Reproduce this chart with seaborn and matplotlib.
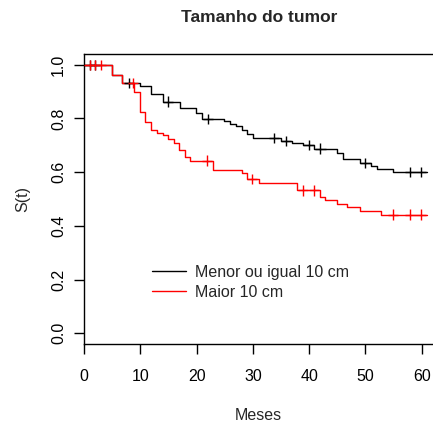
import matplotlib
matplotlib.use("Agg")
import matplotlib.pyplot as plt
import seaborn as sns
import pandas as pd

# ---- data ----
groups = ["Menor ou igual 10 cm", "Maior 10 cm"]

small_times = [0, 4.9, 6.8, 9.9, 11.9, 14.0, 17.0, 19.9, 21.0, 24.9, 26.0, 27.0,
               28.0, 29.0, 30.1, 35.0, 36.9, 38.9, 40.9, 45.0, 46.0, 49.0, 50.9,
               52.0, 54.9, 61.0]
small_surv = [1.0, 0.963, 0.933, 0.922, 0.890, 0.863, 0.838, 0.822, 0.799, 0.789,
              0.781, 0.772, 0.757, 0.741, 0.727, 0.717, 0.708, 0.701, 0.688, 0.673,
              0.650, 0.635, 0.622, 0.612, 0.600, 0.600]
small_cens_t = [1.0, 2.0, 8.0, 14.9, 22.0, 33.8, 35.9, 39.9, 42.0, 50.0, 58.0, 59.9]

large_times = [0, 4.9, 6.8, 8.9, 9.9, 10.9, 11.9, 13.0, 14.0, 15.0, 16.0, 16.9,
               17.9, 18.9, 22.9, 28.0, 29.0, 31.0, 37.9, 41.9, 42.9, 45.0, 46.8,
               49.0, 52.8, 61.0]
large_surv = [1.0, 0.962, 0.931, 0.898, 0.824, 0.788, 0.757, 0.747, 0.739, 0.724,
              0.710, 0.681, 0.658, 0.643, 0.609, 0.597, 0.574, 0.559, 0.532, 0.508,
              0.495, 0.483, 0.469, 0.457, 0.442, 0.442]
large_cens_t = [1.0, 2.0, 3.0, 8.7, 21.9, 29.9, 38.9, 40.9, 54.9, 58.0, 59.9]

title = "Tamanho do tumor"
xlabel = "Meses"
ylabel = "S(t)"
xticks = [0, 10, 20, 30, 40, 50, 60]
yticks = [0.0, 0.2, 0.4, 0.6, 0.8, 1.0]


def surv_at(times, surv, t):
    val = surv[0]
    for ti, si in zip(times, surv):
        if ti <= t:
            val = si
    return val


curves = pd.concat([
    pd.DataFrame({"t": small_times, "S": small_surv, "grupo": groups[0]}),
    pd.DataFrame({"t": large_times, "S": large_surv, "grupo": groups[1]}),
], ignore_index=True)

cens = pd.concat([
    pd.DataFrame({"t": small_cens_t,
                  "S": [surv_at(small_times, small_surv, c) for c in small_cens_t],
                  "grupo": groups[0]}),
    pd.DataFrame({"t": large_cens_t,
                  "S": [surv_at(large_times, large_surv, c) for c in large_cens_t],
                  "grupo": groups[1]}),
], ignore_index=True)

# ---- style ----
sns.set_theme(style="white")
plt.rcParams["font.family"] = ["Liberation Sans", "DejaVu Sans"]
plt.rcParams["font.size"] = 11.5

palette = {groups[0]: "black", groups[1]: "red"}

fig = plt.figure(figsize=(4.33, 4.26), dpi=100)
ax = fig.add_axes([84 / 433, (426 - 344) / 426, (433 - 84) / 433, (344 - 54) / 426])

sns.lineplot(data=curves, x="t", y="S", hue="grupo", palette=palette,
             drawstyle="steps-post", estimator=None, sort=False,
             linewidth=1.0, ax=ax, legend=True)
sns.scatterplot(data=cens, x="t", y="S", hue="grupo", palette=palette,
                marker="+", s=55, linewidth=1.0, ax=ax, legend=False, zorder=3)

ax.set_xlim(0, 62)
ax.set_ylim(-0.04, 1.04)
ax.set_xticks(xticks)
ax.set_xticklabels([str(v) for v in xticks])
ax.set_yticks(yticks)
ax.set_yticklabels([f"{v:.1f}" for v in yticks], rotation=90, va="center")

for side in ["left", "top", "bottom"]:
    ax.spines[side].set_visible(True)
    ax.spines[side].set_color("black")
    ax.spines[side].set_linewidth(1.0)
ax.spines["right"].set_visible(False)

ax.tick_params(axis="both", which="major", direction="out", length=7, width=1.0,
               color="black", labelsize=11.5, labelcolor="black")
ax.tick_params(axis="x", pad=11, bottom=True)
ax.tick_params(axis="y", pad=6, left=True)

ax.set_xlabel(xlabel, fontsize=11.5, labelpad=17)
ax.set_ylabel(ylabel, fontsize=11.5, labelpad=15)
fig.text(259 / 433, 1 - 18 / 426, title, ha="center", va="center",
         fontsize=12.5, fontweight="bold")

handles, labels = ax.get_legend_handles_labels()
ax.legend(handles=handles, labels=labels, loc="upper left",
          bbox_to_anchor=(144 / 433, 1 - 257 / 426), bbox_transform=fig.transFigure,
          frameon=False, borderpad=0, handlelength=2.1, handletextpad=0.6,
          labelspacing=0.3, fontsize=11.5, title=None)

fig.savefig("out.png", dpi=100)
